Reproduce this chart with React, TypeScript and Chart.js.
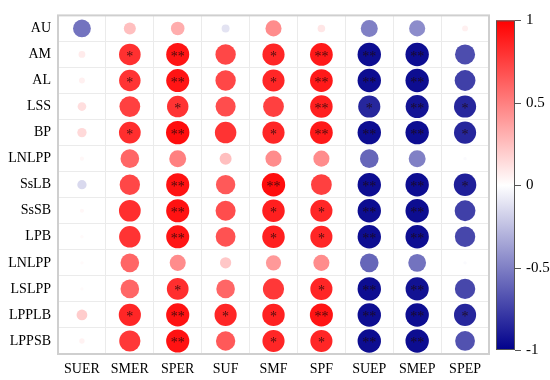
import React, { useEffect, useRef } from "react";
import { Chart, registerables } from "chart.js";

Chart.register(...registerables);

const rowLabels = ["AU", "AM", "AL", "LSS", "BP", "LNLPP", "SsLB", "SsSB", "LPB", "LNLPP", "LSLPP", "LPPLB", "LPPSB"];
const colLabels = ["SUER", "SMER", "SPER", "SUF", "SMF", "SPF", "SUEP", "SMEP", "SPEP"];

// correlation values per column (rows in rowLabels order)
const SUER = [-0.55, 0.08, 0.06, 0.13, 0.15, 0.03, -0.15, 0.03, 0.02, 0.02, 0.02, 0.2, 0.05];
const SMER = [0.25, 0.81, 0.8, 0.75, 0.82, 0.6, 0.72, 0.82, 0.8, 0.6, 0.6, 0.85, 0.78];
const SPER = [0.32, 0.92, 0.92, 0.8, 0.95, 0.5, 0.93, 0.93, 0.92, 0.45, 0.82, 0.93, 0.93];
const SUF = [-0.11, 0.72, 0.72, 0.7, 0.8, 0.25, 0.65, 0.7, 0.68, 0.22, 0.6, 0.85, 0.65];
const SMF = [0.45, 0.85, 0.85, 0.75, 0.85, 0.45, 0.95, 0.88, 0.88, 0.4, 0.78, 0.87, 0.85];
const SPF = [0.1, 0.9, 0.9, 0.88, 0.9, 0.45, 0.75, 0.85, 0.85, 0.45, 0.85, 0.92, 0.85];
const SUEP = [-0.5, -0.95, -0.95, -0.85, -0.95, -0.6, -0.95, -0.95, -0.95, -0.6, -0.95, -0.95, -0.95];
const SMEP = [-0.45, -0.95, -0.95, -0.92, -0.95, -0.5, -0.95, -0.95, -0.95, -0.55, -0.93, -0.95, -0.95];
const SPEP = [0.06, -0.7, -0.75, -0.85, -0.85, -0.02, -0.88, -0.75, -0.72, -0.02, -0.72, -0.85, -0.68];

// significance marks per column
const sigSUER = ["", "", "", "", "", "", "", "", "", "", "", "", ""];
const sigSMER = ["", "*", "*", "", "*", "", "", "", "", "", "", "*", ""];
const sigSPER = ["", "**", "**", "*", "**", "", "**", "**", "**", "", "*", "**", "**"];
const sigSUF = ["", "", "", "", "", "", "", "", "", "", "", "*", ""];
const sigSMF = ["", "*", "*", "", "*", "", "**", "*", "*", "", "", "*", "*"];
const sigSPF = ["", "**", "**", "**", "**", "", "", "*", "*", "", "*", "**", "*"];
const sigSUEP = ["", "**", "**", "*", "**", "", "**", "**", "**", "", "**", "**", "**"];
const sigSMEP = ["", "**", "**", "**", "**", "", "**", "**", "**", "", "**", "**", "**"];
const sigSPEP = ["", "", "", "*", "*", "", "*", "", "", "", "", "*", ""];

const columns = [SUER, SMER, SPER, SUF, SMF, SPF, SUEP, SMEP, SPEP];
const sigs = [sigSUER, sigSMER, sigSPER, sigSUF, sigSMF, sigSPF, sigSUEP, sigSMEP, sigSPEP];

const colorbarTicks = [1, 0.5, 0, -0.5, -1];
const colorbarLabels = ["1", "0.5", "0", "-0.5", "-1"];

const FONT = "'Liberation Serif', 'Times New Roman', serif";

function corrColor(v: number): string {
  const t = Math.min(1, Math.abs(v));
  if (v >= 0) {
    const g = Math.round(255 * (1 - t));
    return `rgb(255,${g},${g})`;
  }
  const rg = Math.round(255 * (1 - t));
  const b = Math.round(255 + (139 - 255) * t);
  return `rgb(${rg},${rg},${b})`;
}

const starPlugin = {
  id: "stars",
  afterDatasetsDraw(chart: any) {
    const ctx = chart.ctx;
    ctx.save();
    ctx.fillStyle = "rgba(30,10,10,0.8)";
    ctx.font = `14px ${FONT}`;
    ctx.textAlign = "center";
    ctx.textBaseline = "middle";
    chart.data.datasets.forEach((_: any, i: number) => {
      const meta = chart.getDatasetMeta(i);
      meta.data.forEach((el: any, j: number) => {
        const s = sigs[i][j];
        if (s) ctx.fillText(s, el.x, el.y + 2.5);
      });
    });
    ctx.restore();
  },
};

const framePlugin = {
  id: "frame",
  beforeDatasetsDraw(chart: any) {
    const { ctx, chartArea } = chart;
    ctx.save();
    ctx.strokeStyle = "#cfcfcf";
    ctx.lineWidth = 2;
    ctx.strokeRect(chartArea.left, chartArea.top, chartArea.right - chartArea.left, chartArea.bottom - chartArea.top);
    ctx.restore();
  },
};

const colorbarPlugin = {
  id: "colorbar",
  afterDraw(chart: any) {
    const ctx = chart.ctx;
    const x0 = chart.chartArea.right + 7;
    const w = 19;
    const top = chart.chartArea.top + 5;
    const bottom = chart.chartArea.bottom - 4;
    ctx.save();
    const grad = ctx.createLinearGradient(0, top, 0, bottom);
    grad.addColorStop(0, corrColor(1));
    grad.addColorStop(0.5, corrColor(0));
    grad.addColorStop(1, corrColor(-1));
    ctx.fillStyle = grad;
    ctx.fillRect(x0, top, w, bottom - top);
    ctx.strokeStyle = "#555";
    ctx.lineWidth = 1;
    ctx.strokeRect(x0 + 0.5, top + 0.5, w - 1, bottom - top - 1);
    ctx.fillStyle = "#000";
    ctx.font = `15px ${FONT}`;
    ctx.textAlign = "left";
    ctx.textBaseline = "middle";
    colorbarTicks.forEach((t, k) => {
      const y = top + ((1 - t) / 2) * (bottom - top);
      ctx.beginPath();
      ctx.moveTo(x0 + w, Math.round(y) + 0.5);
      ctx.lineTo(x0 + w + 6, Math.round(y) + 0.5);
      ctx.stroke();
      ctx.fillText(colorbarLabels[k], x0 + w + 11, y);
    });
    ctx.restore();
  },
};

export default function App() {
  const ref = useRef<HTMLCanvasElement | null>(null);
  useEffect(() => {
    document.body.style.margin = "0";
    if (!ref.current) return;
    const datasets = columns.map((col, i) => ({
      label: colLabels[i],
      data: col.map((v, j) => ({ x: colLabels[i], y: rowLabels[j], v })),
      backgroundColor: (c: any) => corrColor(c.raw ? c.raw.v : 0),
      borderWidth: 0,
      radius: (c: any) => 12 * Math.sqrt(Math.abs(c.raw ? c.raw.v : 0)),
      hoverRadius: 0,
    }));
    const chart = new Chart(ref.current, {
      type: "bubble",
      data: { datasets } as any,
      options: {
        responsive: false,
        animation: false,
        events: [],
        layout: { padding: { top: 7, right: 61, left: 0, bottom: 0 } },
        plugins: { legend: { display: false }, tooltip: { enabled: false } },
        scales: {
          x: {
            type: "category",
            labels: colLabels,
            offset: true,
            grid: { offset: true, color: "#ebebeb", drawTicks: false },
            border: { display: false },
            ticks: { color: "#000", font: { family: FONT, size: 14 }, padding: 7, autoSkip: false, maxRotation: 0 },
            afterFit: (s: any) => { s.height = 26; },
          },
          y: {
            type: "category",
            labels: rowLabels,
            offset: true,
            grid: { offset: true, color: "#ebebeb", drawTicks: false },
            border: { display: false },
            ticks: { color: "#000", font: { family: FONT, size: 14 }, padding: 7, autoSkip: false },
            afterFit: (s: any) => { s.width = 58; },
          },
        },
      } as any,
      plugins: [framePlugin, starPlugin, colorbarPlugin],
    });
    return () => chart.destroy();
  }, []);
  return (
    <div style={{ width: 550, height: 380 }}>
      <canvas ref={ref} width={550} height={380} />
    </div>
  );
}
